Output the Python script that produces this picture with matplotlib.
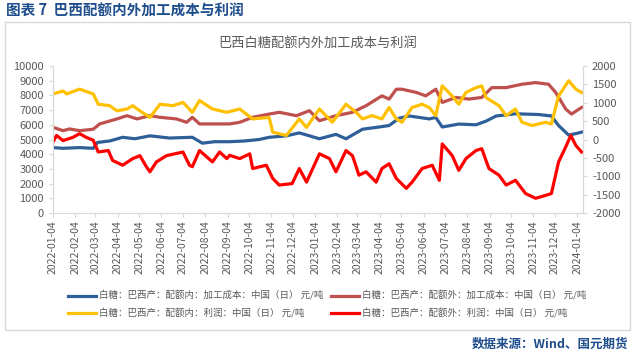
import matplotlib
matplotlib.use("Agg")
import matplotlib.pyplot as plt
import matplotlib.dates as mdates
import pandas as pd
from matplotlib.patches import Rectangle

plt.rcParams['font.family'] = ['Noto Sans CJK SC', 'DejaVu Sans']
plt.rcParams['axes.unicode_minus'] = False

# ==========================================
# DATA
# ==========================================
cost_in_dates = ["2022-01-04", "2022-01-18", "2022-02-10", "2022-03-01", "2022-03-07", "2022-03-24",
                 "2022-04-11", "2022-04-28", "2022-05-19", "2022-06-15", "2022-07-17", "2022-07-31",
                 "2022-08-17", "2022-09-07", "2022-09-28", "2022-10-18", "2022-11-01", "2022-11-25",
                 "2022-12-13", "2023-01-10", "2023-02-02", "2023-02-16", "2023-03-11", "2023-04-03",
                 "2023-04-17", "2023-05-01", "2023-05-15", "2023-06-12", "2023-06-21", "2023-06-30",
                 "2023-07-23", "2023-08-16", "2023-08-30", "2023-09-13", "2023-10-10", "2023-11-11",
                 "2023-11-29", "2023-12-09", "2023-12-23", "2024-01-02", "2024-01-10"]
cost_in = [4450, 4400, 4450, 4400, 4800, 4900, 5150, 5050, 5250, 5100, 5150, 4750,
           4850, 4850, 4900, 5000, 5150, 5250, 5450, 5050, 5350, 5050, 5700, 5850,
           5950, 6450, 6600, 6400, 6500, 5850, 6050, 6000, 6250, 6600, 6750, 6700,
           6600, 5950, 5300, 5400, 5500]

cost_out_dates = ["2022-01-04", "2022-01-18", "2022-01-27", "2022-02-10", "2022-03-01", "2022-03-10",
                  "2022-04-03", "2022-04-17", "2022-05-01", "2022-05-19", "2022-06-02", "2022-06-25",
                  "2022-07-09", "2022-07-17", "2022-07-27", "2022-09-07", "2022-09-21", "2022-10-09",
                  "2022-11-01", "2022-11-15", "2022-12-09", "2022-12-27", "2023-01-10", "2023-02-02",
                  "2023-02-25", "2023-03-16", "2023-04-07", "2023-04-17", "2023-04-27", "2023-05-05",
                  "2023-05-25", "2023-06-07", "2023-06-21", "2023-06-30", "2023-07-19", "2023-08-06",
                  "2023-08-24", "2023-09-07", "2023-09-27", "2023-10-19", "2023-11-07", "2023-11-25",
                  "2023-12-05", "2023-12-19", "2023-12-27", "2024-01-10"]
cost_out = [5830, 5600, 5720, 5600, 5700, 6060, 6400, 6620, 6400, 6620, 6510, 6400,
            6170, 6510, 6060, 6060, 6170, 6510, 6730, 6850, 6620, 6960, 6280, 6620,
            6850, 7300, 7970, 7750, 8420, 8420, 8200, 7970, 8420, 7520, 7860, 7750,
            7860, 8530, 8530, 8760, 8870, 8760, 8200, 7070, 6730, 7180]

profit_in_dates = ["2022-01-04", "2022-01-18", "2022-01-23", "2022-02-10", "2022-03-01", "2022-03-08",
                   "2022-03-24", "2022-04-03", "2022-04-17", "2022-04-25", "2022-05-05", "2022-05-19",
                   "2022-06-02", "2022-06-20", "2022-07-04", "2022-07-17", "2022-07-27", "2022-08-14",
                   "2022-09-03", "2022-09-21", "2022-10-09", "2022-11-01", "2022-11-06", "2022-11-25",
                   "2022-12-13", "2022-12-23", "2023-01-10", "2023-01-28", "2023-02-16", "2023-03-02",
                   "2023-03-11", "2023-03-24", "2023-04-07", "2023-04-17", "2023-04-27", "2023-05-05",
                   "2023-05-19", "2023-06-02", "2023-06-12", "2023-06-21", "2023-06-30", "2023-07-14",
                   "2023-07-23", "2023-08-02", "2023-08-16", "2023-08-24", "2023-08-30", "2023-09-17",
                   "2023-09-27", "2023-10-10", "2023-10-19", "2023-11-02", "2023-11-21", "2023-11-29",
                   "2023-12-09", "2023-12-23", "2024-01-02", "2024-01-10"]
profit_in = [1240, 1320, 1240, 1370, 1240, 960, 920, 780, 830, 920, 780, 600,
             960, 920, 1010, 740, 1060, 830, 740, 830, 560, 600, 200, 110,
             560, 330, 830, 470, 960, 740, 560, 650, 560, 870, 560, 470,
             870, 960, 870, 650, 1460, 1180, 960, 1280, 1410, 1460, 1140, 920,
             650, 830, 470, 380, 470, 420, 1180, 1600, 1370, 1280]

profit_out_dates = ["2022-01-04", "2022-01-09", "2022-01-18", "2022-02-01", "2022-02-10", "2022-02-19",
                    "2022-03-01", "2022-03-08", "2022-03-22", "2022-03-28", "2022-04-11", "2022-04-25",
                    "2022-05-05", "2022-05-14", "2022-05-19", "2022-05-28", "2022-06-11", "2022-07-04",
                    "2022-07-13", "2022-07-17", "2022-07-27", "2022-08-14", "2022-08-24", "2022-09-03",
                    "2022-09-07", "2022-09-21", "2022-10-05", "2022-10-09", "2022-10-28", "2022-11-06",
                    "2022-11-15", "2022-12-03", "2022-12-13", "2022-12-23", "2023-01-10", "2023-01-24",
                    "2023-02-02", "2023-02-16", "2023-02-25", "2023-03-06", "2023-03-16", "2023-03-30",
                    "2023-04-07", "2023-04-17", "2023-04-27", "2023-05-11", "2023-05-19", "2023-06-02",
                    "2023-06-16", "2023-06-26", "2023-06-30", "2023-07-14", "2023-07-23", "2023-08-02",
                    "2023-08-16", "2023-08-24", "2023-09-03", "2023-09-17", "2023-09-27", "2023-10-10",
                    "2023-10-24", "2023-11-07", "2023-11-21", "2023-11-29", "2023-12-09", "2023-12-19",
                    "2023-12-26", "2024-01-02", "2024-01-10"]
profit_out = [-70, 110, -30, 60, 160, 60, -20, -340, -300, -570, -700, -520,
              -440, -740, -880, -610, -440, -340, -700, -740, -300, -610, -340, -520,
              -430, -520, -390, -790, -700, -1060, -1240, -1200, -790, -1160, -390, -520,
              -880, -300, -440, -970, -880, -1160, -790, -660, -1060, -1330, -1160, -790,
              -700, -1110, -120, -440, -840, -520, -300, -250, -790, -970, -1240, -1110,
              -1470, -1600, -1520, -1470, -610, -200, 110, -160, -340]

labels = ["白糖：巴西产：配额内：加工成本：中国（日） 元/吨",
          "白糖：巴西产：配额外：加工成本：中国（日） 元/吨",
          "白糖：巴西产：配额内：利润：中国（日） 元/吨",
          "白糖：巴西产：配额外：利润：中国（日） 元/吨"]
colors = ["#2F5F98", "#C0504D", "#FFC000", "#FF0000"]

GRAY = "#595959"
NAVY = "#1F4E8C"


def main():
    fig = plt.figure(figsize=(6.35, 3.54), dpi=100)

    # outer frame + header / footer text
    fig.patches.append(Rectangle((5 / 635, 1 - 330 / 354), 625 / 635, 308 / 354,
                                 transform=fig.transFigure, fill=False,
                                 edgecolor="#D9D9D9", linewidth=1.0))
    fig.text(6 / 635, 1 - 11 / 354, "图表 7  巴西配额内外加工成本与利润", color=NAVY,
             fontsize=10.5, fontweight="bold", va="center", ha="left")
    fig.text(628 / 635, 1 - 344 / 354, "数据来源：Wind、国元期货", color=NAVY,
             fontsize=9, fontweight="bold", va="center", ha="right")
    fig.text(318 / 635, 1 - 43 / 354, "巴西白糖配额内外加工成本与利润", color=GRAY,
             fontsize=9.5, va="center", ha="center")

    ax = fig.add_axes([53 / 635, 1 - 213 / 354, 530 / 635, 147 / 354])
    ax2 = ax.twinx()

    lw = 2.3
    l1, = ax.plot(pd.to_datetime(cost_in_dates), cost_in, color=colors[0], lw=lw)
    l2, = ax.plot(pd.to_datetime(cost_out_dates), cost_out, color=colors[1], lw=lw)
    l3, = ax2.plot(pd.to_datetime(profit_in_dates), profit_in, color=colors[2], lw=lw)
    l4, = ax2.plot(pd.to_datetime(profit_out_dates), profit_out, color=colors[3], lw=lw)

    ax.set_ylim(0, 10000)
    ax.set_yticks(range(0, 10001, 1000))
    ax2.set_ylim(-2000, 2000)
    ax2.set_yticks(range(-2000, 2001, 500))
    ax.set_xlim(pd.Timestamp("2022-01-04"), pd.Timestamp("2024-01-12"))

    ticks = pd.date_range("2022-01-01", "2024-01-01", freq="MS") + pd.Timedelta(days=3)
    ax.set_xticks(ticks)
    ax.xaxis.set_major_formatter(mdates.DateFormatter("%Y-%m-%d"))
    for lab in ax.get_xticklabels():
        lab.set_rotation(90)

    for a in (ax, ax2):
        a.spines["top"].set_visible(False)
        for side in ("left", "right", "bottom"):
            a.spines[side].set_color("#D9D9D9")
        a.tick_params(colors=GRAY, labelsize=8, length=3, width=0.8)
        a.tick_params(axis="both", color="#D9D9D9")
    ax.tick_params(axis="x", labelsize=7.5, pad=2)

    # column-major fill: col 1 = cost in / profit in, col 2 = cost out / profit out
    fig.legend([l1, l3, l2, l4], [labels[0], labels[2], labels[1], labels[3]], loc="upper left",
               bbox_to_anchor=(64 / 635, 1 - 287 / 354), ncol=2, frameon=False,
               fontsize=6.8, labelcolor=GRAY, handlelength=3.0, handletextpad=0.3,
               columnspacing=0.8, borderaxespad=0, labelspacing=0.8)

    fig.savefig("out.png", dpi=100)


if __name__ == "__main__":
    main()
